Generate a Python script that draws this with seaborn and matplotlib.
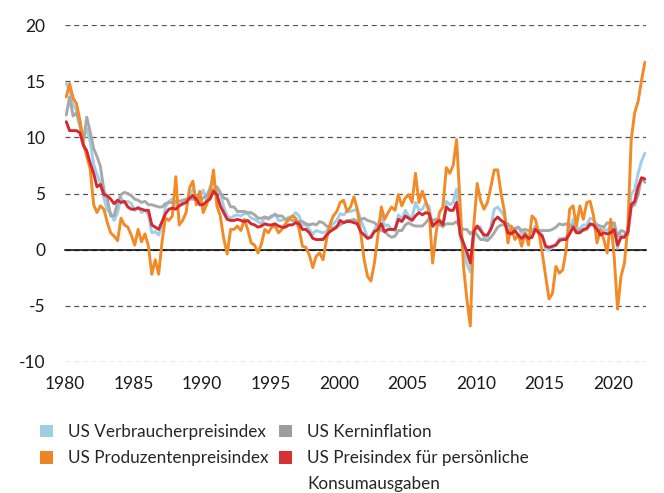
import matplotlib
import matplotlib.pyplot as plt
import pandas as pd
import seaborn as sns
from matplotlib.patches import Patch

matplotlib.use("Agg")

# quarterly readings (Feb, May, Aug, Nov), Feb 1980 .. May 2022, in % y/y
dates = pd.date_range("1980-02-01", periods=170, freq="3MS")

cpi = [
    14.8, 14.2, 12.9, 12.4,  11.4, 9.8, 10.8, 9.6,  7.6, 6.7, 5.9, 4.6,
    3.5, 3.3, 2.6, 3.3,  4.6, 4.2, 4.3, 4.1,  3.5, 3.8, 3.3, 3.5,
    3.1, 1.5, 1.6, 1.3,  2.1, 3.8, 4.3, 4.5,  3.9, 3.9, 4.0, 4.2,
    4.8, 5.4, 4.7, 4.7,  5.3, 4.4, 5.6, 6.0,  5.3, 5.0, 3.8, 3.0,
    2.8, 3.0, 3.1, 3.0,  3.2, 3.2, 2.8, 2.7,  2.5, 2.3, 2.9, 2.7,
    2.9, 3.2, 2.6, 2.6,  2.7, 2.9, 2.9, 3.3,  3.0, 2.2, 2.2, 1.8,
    1.4, 1.7, 1.6, 1.5,  1.6, 2.1, 2.3, 2.6,  3.2, 3.1, 3.4, 3.4,
    3.5, 3.6, 2.7, 1.9,  1.1, 1.2, 1.8, 2.2,  3.0, 2.1, 2.2, 1.8,
    1.7, 3.1, 2.7, 3.5,  3.0, 2.8, 4.2, 3.5,  3.6, 4.2, 3.8, 2.0,
    2.4, 2.7, 2.0, 4.3,  4.0, 4.2, 5.4, 1.1,  0.2, -1.3, -2.0, 1.8,
    2.1, 2.0, 1.1, 1.1,  2.1, 3.6, 3.8, 3.4,  2.9, 1.7, 1.7, 1.8,
    2.0, 1.4, 1.5, 1.2,  1.1, 2.1, 1.7, 1.3,  0.0, 0.0, 0.2, 0.5,
    1.0, 1.0, 1.1, 1.7,  2.7, 1.9, 1.9, 2.2,  2.2, 2.8, 2.7, 2.2,
    1.5, 1.8, 1.7, 2.1,  2.3, 0.1, 1.3, 1.2,  1.7, 5.0, 5.3, 6.8,
    7.9, 8.6,
]

ppi = [
    13.6, 14.8, 13.5, 13.0,  11.5, 9.5, 8.3, 7.2,  4.0, 3.3, 3.9, 3.6,
    2.4, 1.5, 1.2, 0.8,  2.8, 2.2, 2.0, 1.3,  0.4, 1.8, 0.7, 1.4,
    0.3, -2.2, -0.9, -2.2,  0.8, 2.8, 2.6, 3.0,  6.5, 2.2, 2.6, 3.3,
    5.5, 6.1, 4.0, 5.2,  3.3, 4.0, 5.0, 7.1,  3.9, 3.0, 1.0, -0.4,
    1.8, 1.8, 2.1, 1.7,  2.7, 1.8, 0.6, 0.4,  -0.3, 0.5, 1.8, 1.5,
    2.0, 2.1, 1.5, 1.8,  2.3, 2.7, 3.0, 2.8,  1.8, 0.3, 0.2, -0.5,
    -1.6, -0.6, -0.3, -0.9,  0.9, 2.2, 3.0, 3.4,  4.2, 4.4, 3.4, 3.8,
    4.7, 3.6, 1.5, -0.9,  -2.4, -2.8, -1.2, 1.2,  3.8, 2.7, 3.3, 3.8,
    3.5, 4.9, 3.9, 4.6,  4.9, 4.2, 6.8, 4.2,  5.2, 4.3, 3.3, -1.2,
    1.5, 3.3, 3.8, 7.3,  6.8, 7.5, 9.8, 4.2,  -1.5, -4.4, -6.8, 2.1,
    5.9, 4.4, 3.6, 4.2,  5.6, 7.1, 7.1, 5.0,  3.3, 0.6, 2.1, 0.9,
    1.3, 0.3, 1.5, 0.4,  3.0, 2.7, 1.5, -0.3,  -2.4, -4.4, -3.9, -1.5,
    -2.1, -1.8, 0.0, 3.6,  3.9, 2.1, 3.9, 2.7,  4.2, 4.3, 3.0, 0.6,
    1.8, 0.9, -0.3, 2.7,  -0.6, -5.3, -2.4, -1.2,  2.1, 9.8, 12.2, 13.2,
    15.1, 16.7,
]

core = [
    12.0, 13.6, 11.9, 12.2,  11.0, 9.6, 11.8, 10.5,  9.0, 8.3, 7.4, 5.3,
    4.5, 3.0, 3.0, 4.2,  4.9, 5.1, 5.0, 4.8,  4.5, 4.4, 4.2, 4.3,
    4.0, 4.0, 3.9, 3.8,  3.8, 4.1, 4.2, 4.2,  4.3, 4.3, 4.4, 4.5,
    4.5, 4.5, 4.4, 4.4,  4.6, 4.8, 5.4, 5.3,  5.6, 5.1, 4.6, 4.5,
    3.8, 3.8, 3.4, 3.4,  3.4, 3.3, 3.3, 3.1,  2.8, 2.8, 2.9, 2.8,
    3.0, 3.1, 3.0, 3.0,  2.7, 2.7, 2.6, 2.6,  2.5, 2.5, 2.3, 2.2,
    2.3, 2.2, 2.5, 2.4,  2.1, 2.0, 1.9, 2.1,  2.2, 2.4, 2.6, 2.6,
    2.7, 2.5, 2.7, 2.8,  2.6, 2.5, 2.4, 2.1,  1.7, 1.6, 1.3, 1.1,
    1.2, 1.7, 1.7, 2.2,  2.4, 2.2, 2.1, 2.1,  2.1, 2.4, 2.8, 2.6,
    2.7, 2.2, 2.1, 2.3,  2.3, 2.3, 2.5, 2.0,  1.8, 1.8, 1.4, 1.7,
    1.3, 0.9, 0.9, 0.8,  1.1, 1.5, 2.0, 2.2,  2.2, 2.3, 1.9, 1.9,
    2.0, 1.7, 1.8, 1.7,  1.6, 2.0, 1.7, 1.7,  1.7, 1.7, 1.8, 2.0,
    2.3, 2.2, 2.3, 2.1,  2.2, 1.7, 1.7, 1.7,  1.8, 2.2, 2.2, 2.2,
    2.1, 2.0, 2.4, 2.3,  2.4, 1.2, 1.7, 1.6,  1.3, 3.8, 4.0, 4.9,
    6.4, 6.0,
]

pce = [
    11.4, 10.6, 10.6, 10.6,  10.4, 9.3, 8.8, 7.7,  6.8, 5.6, 5.8, 4.9,
    4.8, 4.5, 4.1, 4.4,  4.2, 4.3, 3.8, 3.6,  3.6, 3.7, 3.6, 3.5,
    3.5, 2.2, 2.0, 1.8,  2.5, 3.2, 3.6, 3.7,  3.6, 3.9, 4.1, 4.2,
    4.6, 4.8, 4.5, 4.0,  4.0, 4.3, 4.5, 5.2,  4.9, 3.9, 3.3, 2.7,
    2.6, 2.6, 2.7, 2.6,  2.5, 2.6, 2.3, 2.2,  2.0, 2.1, 2.3, 2.2,
    2.2, 2.3, 2.1, 2.0,  2.0, 2.2, 2.2, 2.4,  2.3, 1.8, 1.8, 1.5,
    1.0, 0.9, 0.9, 0.9,  1.3, 1.6, 1.8, 2.0,  2.6, 2.4, 2.5, 2.5,
    2.4, 2.3, 1.6, 1.3,  1.0, 1.1, 1.6, 1.8,  2.3, 1.6, 1.8, 1.8,
    1.8, 2.7, 2.5, 3.0,  2.8, 2.6, 3.0, 3.3,  3.1, 3.3, 3.2, 2.1,
    2.4, 2.6, 2.2, 3.8,  3.5, 3.5, 4.2, 1.4,  0.6, -0.2, -1.2, 1.6,
    2.1, 1.7, 1.3, 1.3,  1.8, 2.6, 2.9, 2.6,  2.4, 1.5, 1.4, 1.7,
    1.3, 1.0, 1.3, 1.0,  1.1, 1.8, 1.5, 1.2,  0.3, 0.2, 0.3, 0.4,
    0.8, 0.9, 0.9, 1.4,  2.0, 1.5, 1.5, 1.8,  1.9, 2.3, 2.2, 1.8,
    1.3, 1.5, 1.4, 1.5,  1.8, 0.4, 1.1, 1.1,  1.6, 4.0, 4.3, 5.6,
    6.4, 6.3,
]

labels = [
    "US Verbraucherpreisindex",
    "US Produzentenpreisindex",
    "US Kerninflation",
    "US Preisindex für persönliche",
]
label_wrap = "Konsumausgaben"
line_colors = ["#9dcfe8", "#f28a25", "#a8a8a8", "#d7282f"]
patch_colors = ["#9fcde4", "#ef8427", "#9d9d9d", "#d83131"]

sns.set_theme(style="white")
plt.rcParams["font.family"] = ["Lato", "DejaVu Sans"]
plt.rcParams["axes.unicode_minus"] = False

fig = plt.figure(figsize=(6.64, 4.93), dpi=100)
ax = fig.add_axes([0.098, 0.266, 0.875, 0.683])

# draw order: blue, grey, orange, red on top
for values, color in [(cpi, line_colors[0]), (core, line_colors[2]),
                      (ppi, line_colors[1]), (pce, line_colors[3])]:
    sns.lineplot(x=dates, y=values, color=color, linewidth=2.1, ax=ax)

ax.set_ylim(-10, 20)
ax.set_yticks(range(-10, 21, 5))
ax.set_xlim(pd.Timestamp("1980-01-01"), pd.Timestamp("2022-06-01"))
years = list(range(1980, 2021, 5))
ax.set_xticks(pd.to_datetime([f"{y}-01-01" for y in years]))
ax.set_xticklabels([str(y) for y in years])
ax.set_xlabel("")
ax.set_ylabel("")

for side in ["top", "right", "left"]:
    ax.spines[side].set_visible(False)
ax.spines["bottom"].set_position(("data", 0))
ax.spines["bottom"].set_color("black")
ax.spines["bottom"].set_linewidth(1.1)
ax.spines["bottom"].set_zorder(1.5)

ax.yaxis.grid(True, linestyle=(0, (4, 3)), color="#555555", linewidth=0.9)
ax.xaxis.grid(False)
ax.set_axisbelow(True)

ax.tick_params(axis="x", direction="out", length=5, width=1.1, color="black",
               pad=86, labelsize=12.5, labelcolor="#1a1a1a")
ax.tick_params(axis="y", length=0, pad=14, labelsize=12.5, labelcolor="#1a1a1a")

# legend: two columns, the long label wraps onto a third row without a patch
blank = Patch(facecolor="none", edgecolor="none")
handles = [Patch(facecolor=patch_colors[0], edgecolor="none"),
           Patch(facecolor=patch_colors[1], edgecolor="none"),
           blank,
           Patch(facecolor=patch_colors[2], edgecolor="none"),
           Patch(facecolor=patch_colors[3], edgecolor="none"),
           blank]
texts = [labels[0], labels[1], "", labels[2], labels[3], label_wrap]
fig.legend(handles, texts, ncol=2, loc="upper left",
           bbox_to_anchor=(40 / 664, 1 - 424 / 493), frameon=False,
           borderpad=0, borderaxespad=0, fontsize=12.3,
           handlelength=0.75, handleheight=0.75, handletextpad=0.9,
           columnspacing=0.6, labelspacing=0.6)

fig.savefig("out.png", dpi=100, facecolor="white")
plt.close(fig)
